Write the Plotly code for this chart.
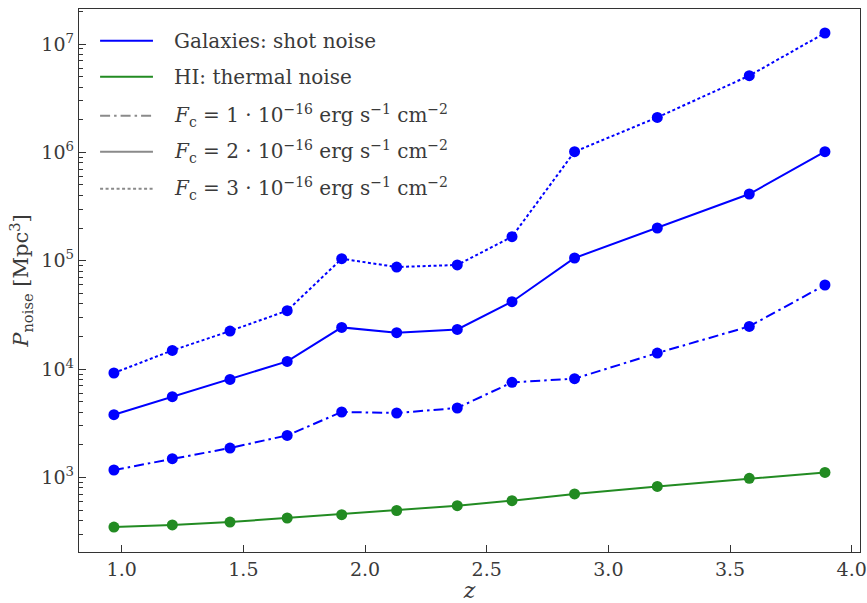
import plotly.graph_objects as go

# ---- data ----
z = [0.968, 1.208, 1.445, 1.680, 1.904, 2.130, 2.379, 2.604, 2.861, 3.201, 3.579, 3.890]
gal_fc1 = [1170, 1488, 1867, 2442, 4014, 3930, 4370, 7535, 8147, 14060, 24750, 59670]
gal_fc2 = [3790, 5558, 8026, 11770, 24230, 21650, 23230, 41840, 105900, 200400, 412600, 1014000]
gal_fc3 = [9193, 14860, 22430, 34560, 104300, 87400, 91300, 166500, 1014000, 2102000, 5100000, 12630000]
hi_thermal = [348, 364, 387, 422, 453, 495, 548, 610, 703, 826, 980, 1112]

ytick_vals = [1e3, 1e4, 1e5, 1e6, 1e7]
ytick_text = ["10<sup>3</sup>", "10<sup>4</sup>", "10<sup>5</sup>", "10<sup>6</sup>", "10<sup>7</sup>"]
xtick_vals = [1.0, 1.5, 2.0, 2.5, 3.0, 3.5, 4.0]

legend_labels = [
    "Galaxies: shot noise",
    "HI: thermal noise",
    "<i>F</i><sub>c</sub> = 1 · 10<sup>−16</sup> erg s<sup>−1</sup> cm<sup>−2</sup>",
    "<i>F</i><sub>c</sub> = 2 · 10<sup>−16</sup> erg s<sup>−1</sup> cm<sup>−2</sup>",
    "<i>F</i><sub>c</sub> = 3 · 10<sup>−16</sup> erg s<sup>−1</sup> cm<sup>−2</sup>",
]

BLUE = "#0000ff"
GREEN = "#228b22"
GRAY = "#8a8a8a"
TXT = "#3a3a3a"
FONT = "DejaVu Serif"

DASHDOT = "10px,4px,2.5px,4px"
DOT = "3px,2.5px"

fig = go.Figure()

def add_series(y, color, dash):
    fig.add_trace(go.Scatter(
        x=z, y=y, mode="lines+markers",
        line=dict(color=color, width=2, dash=dash),
        marker=dict(color=color, size=11, line=dict(width=0)),
        showlegend=False,
    ))

add_series(hi_thermal, GREEN, "solid")
add_series(gal_fc1, BLUE, DASHDOT)
add_series(gal_fc2, BLUE, "solid")
add_series(gal_fc3, BLUE, DOT)

# ---- manual legend (frameless, like the reference) ----
leg_styles = [(BLUE, "solid"), (GREEN, "solid"), (GRAY, DASHDOT), (GRAY, "solid"), (GRAY, DOT)]
leg_y = [0.9416, 0.8753, 0.8035, 0.7372, 0.669]
for (col, dash), yy, lab in zip(leg_styles, leg_y, legend_labels):
    fig.add_shape(type="line", xref="paper", yref="paper",
                  x0=0.027, x1=0.0947, y0=yy, y1=yy,
                  line=dict(color=col, width=2, dash=dash))
    fig.add_annotation(xref="paper", yref="paper", x=0.119, y=yy,
                       text=lab, showarrow=False, xanchor="left", yanchor="middle",
                       font=dict(family=FONT, size=20, color=TXT))

axis_common = dict(
    showgrid=False, zeroline=False, showline=True, mirror=True,
    linecolor="#333333", linewidth=1.4,
    ticks="inside", tickcolor="#333333", tickwidth=1.2,
    tickfont=dict(family=FONT, size=19, color=TXT),
    automargin=False,
)

fig.update_xaxes(
    **axis_common,
    range=[0.8245, 4.034],
    tickvals=xtick_vals, ticktext=[f"{v:.1f}" for v in xtick_vals],
    ticklen=7,
    title=dict(text="<i>z</i>", font=dict(family=FONT, size=22, color=TXT), standoff=4),
)
fig.update_yaxes(
    **axis_common,
    type="log",
    range=[2.3115, 7.323],
    tickvals=ytick_vals, ticktext=ytick_text,
    ticklen=7,
    minor=dict(ticks="inside", ticklen=4, tickcolor="#333333", tickwidth=1, dtick="D1", showgrid=False),
    title=dict(text="<i>P</i><sub>noise</sub> [Mpc<sup>3</sup>]",
               font=dict(family=FONT, size=21, color=TXT), standoff=6),
)

fig.update_layout(
    width=867, height=603,
    margin=dict(l=79, r=7, t=9, b=51),
    plot_bgcolor="white", paper_bgcolor="white",
    showlegend=False,
    font=dict(family=FONT, color=TXT),
)

fig.write_html("out.html")
